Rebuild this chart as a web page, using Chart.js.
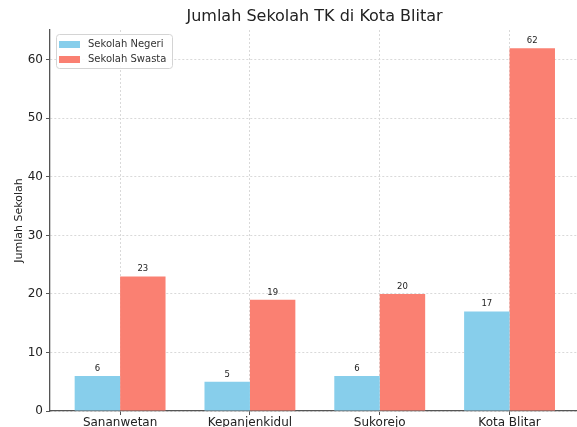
<!DOCTYPE html>
<html><head><meta charset="utf-8">
<script src="https://cdn.jsdelivr.net/npm/chart.js@4"></script>
<style>html,body{margin:0;padding:0;background:#fff;overflow:hidden;width:577px;height:427px}
#wrap{width:579px;height:427px}canvas{display:block}</style></head>
<body><div id="wrap"><canvas id="c" width="579" height="427"></canvas></div>
<script>
const categories = ['Sananwetan', 'Kepanjenkidul', 'Sukorejo', 'Kota Blitar'];
const seriesNames = ['Sekolah Negeri', 'Sekolah Swasta'];
const negeri = [6, 5, 6, 17];
const swasta = [23, 19, 20, 62];
const yTicks = [0, 10, 20, 30, 40, 50, 60];
const chartTitle = 'Jumlah Sekolah TK di Kota Blitar';
const yTitle = 'Jumlah Sekolah';
const colors = ['#87CEEB', '#FA8072'];

const FONT = 'DejaVu Sans';
const gridColor = '#d9d9d9';
const axisColor = '#555';

const overlay = {
  id: 'overlay',
  afterDatasetsDraw(chart) {
    const ctx = chart.ctx;
    ctx.save();
    ctx.font = '8.5px "' + FONT + '"';
    ctx.fillStyle = '#222';
    ctx.textAlign = 'center';
    ctx.textBaseline = 'bottom';
    chart.data.datasets.forEach((ds, di) => {
      const meta = chart.getDatasetMeta(di);
      meta.data.forEach((el, i) => {
        ctx.fillText(String(ds.data[i].y), el.x, el.y - 3);
      });
    });
    ctx.restore();
  },
  afterDraw(chart) {
    const ctx = chart.ctx;
    const ca = chart.chartArea;
    ctx.save();
    // title
    ctx.font = '16px "' + FONT + '"';
    ctx.fillStyle = '#222';
    ctx.textAlign = 'center';
    ctx.textBaseline = 'middle';
    ctx.fillText(chartTitle, (ca.left + ca.right) / 2, 17);
    // legend
    const bx = 56.5, by = 34.5, bw = 116, bh = 34;
    ctx.beginPath();
    ctx.roundRect(bx, by, bw, bh, 3);
    ctx.fillStyle = 'rgba(255,255,255,0.85)';
    ctx.fill();
    ctx.strokeStyle = '#d4d4d4';
    ctx.lineWidth = 1;
    ctx.stroke();
    ctx.font = '10px "' + FONT + '"';
    ctx.textAlign = 'left';
    chart.data.datasets.forEach((ds, di) => {
      const y = 41 + di * 15;
      ctx.fillStyle = ds.backgroundColor;
      ctx.fillRect(59, y, 21, 7);
      ctx.fillStyle = '#333';
      ctx.fillText(ds.label, 88, y + 3.5);
    });
    ctx.restore();
  }
};

new Chart(document.getElementById('c'), {
  type: 'bar',
  data: {
    datasets: [
      { label: seriesNames[0], data: negeri.map((v, i) => ({ x: i, y: v })), backgroundColor: colors[0], borderWidth: 0, categoryPercentage: 0.7, barPercentage: 1.0 },
      { label: seriesNames[1], data: swasta.map((v, i) => ({ x: i, y: v })), backgroundColor: colors[1], borderWidth: 0, categoryPercentage: 0.7, barPercentage: 1.0 }
    ]
  },
  options: {
    responsive: false,
    animation: false,
    devicePixelRatio: 1,
    layout: { padding: { top: 30, left: 0, right: 0, bottom: 0 } },
    plugins: { legend: { display: false }, tooltip: { enabled: false }, title: { display: false } },
    scales: {
      x: {
        type: 'linear',
        min: -0.54,
        max: 3.535,
        offset: false,
        grid: { offset: false, color: gridColor, lineWidth: 1, drawTicks: true, tickLength: 4, tickColor: axisColor, tickWidth: 1 },
        border: { display: true, color: axisColor, width: 1.3, dash: [2, 2] },
        ticks: {
          font: { family: FONT, size: 12 }, color: '#222', padding: 1, maxRotation: 0, autoSkip: false,
          callback: (v) => categories[v] !== undefined ? categories[v] : ''
        },
        afterBuildTicks: (s) => { s.ticks = categories.map((_, i) => ({ value: i })); },
        afterFit: (s) => { s.height = 16; }
      },
      y: {
        min: 0,
        max: 65.1,
        grid: { color: gridColor, lineWidth: 1, drawTicks: true, tickLength: 4, tickColor: axisColor, tickWidth: 1 },
        border: { display: true, color: axisColor, width: 1.3, dash: [2, 2] },
        ticks: { stepSize: 10, includeBounds: false, font: { family: FONT, size: 12 }, color: '#222', padding: 3 },
        afterBuildTicks: (s) => { s.ticks = yTicks.map(v => ({ value: v })); },
        title: { display: true, text: yTitle, font: { family: FONT, size: 11 }, color: '#222', padding: { top: 13, bottom: 0 } },
        afterFit: (s) => { s.width = 50; }
      }
    }
  },
  plugins: [overlay]
});
</script>
</body></html>
